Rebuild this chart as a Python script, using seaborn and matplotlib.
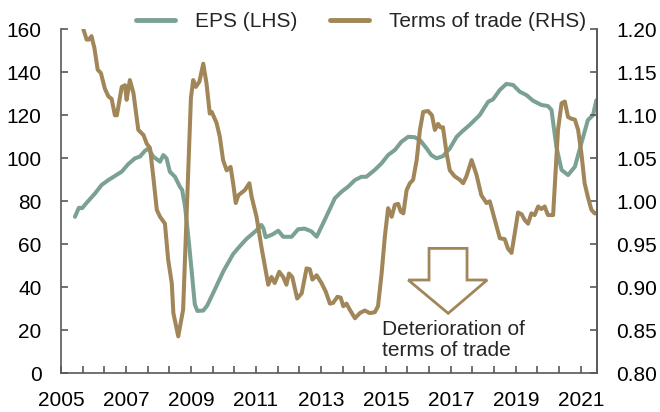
import numpy as np
import pandas as pd
import matplotlib
matplotlib.use("Agg")
import matplotlib.pyplot as plt
from matplotlib.patches import Polygon
from matplotlib.lines import Line2D
import seaborn as sns

# EPS (left axis)
eps_year = [2005.43, 2005.55, 2005.65, 2005.8, 2006.05, 2006.25, 2006.46, 2006.66, 2006.87,
            2007.07, 2007.28, 2007.43, 2007.58, 2007.69, 2007.84, 2008.05, 2008.15, 2008.25,
            2008.35, 2008.51, 2008.66, 2008.73, 2008.82, 2008.92, 2009.02, 2009.12, 2009.2,
            2009.38, 2009.5, 2009.69, 2010.0, 2010.3, 2010.5, 2010.71, 2011.02, 2011.17,
            2011.23, 2011.3, 2011.5, 2011.69, 2011.84, 2012.1, 2012.3, 2012.5, 2012.71,
            2012.87, 2013.07, 2013.28, 2013.43, 2013.64, 2013.84, 2014.05, 2014.25, 2014.4,
            2014.66, 2014.87, 2015.07, 2015.28, 2015.48, 2015.69, 2015.89, 2016.05, 2016.25,
            2016.4, 2016.56, 2016.76, 2016.97, 2017.18, 2017.35, 2017.58, 2017.89, 2018.15,
            2018.3, 2018.51, 2018.71, 2018.92, 2019.12, 2019.33, 2019.53, 2019.79, 2019.99,
            2020.1, 2020.25, 2020.41, 2020.61, 2020.82, 2021.02, 2021.22, 2021.38, 2021.48]
eps = [72.8, 77.0, 76.8, 79.5, 83.7, 87.6, 89.9, 91.8, 93.8,
       97.3, 100.0, 100.8, 103.4, 104.6, 100.8, 98.4, 101.5, 100.0,
       93.8, 91.4, 86.8, 85.3, 77.5, 63.5, 48.0, 32.0, 29.0,
       29.2, 31.5, 37.5, 47.5, 55.5, 59.0, 62.5, 66.5, 69.0,
       67.5, 63.3, 64.5, 66.3, 63.5, 63.5, 67.0, 67.3, 66.0,
       63.5, 69.8, 76.5, 81.4, 84.5, 86.8, 89.9, 91.4, 91.4,
       94.6, 97.7, 101.5, 103.9, 107.7, 110.0, 109.8, 108.5, 104.7,
       101.5, 100.0, 101.0, 104.6, 110.0, 112.5, 115.5, 120.1, 126.3,
       127.4, 131.8, 134.6, 134.1, 131.0, 129.4, 126.8, 124.8, 124.3,
       122.5, 105.4, 94.6, 92.2, 96.1, 107.0, 117.8, 120.1, 127.0]

# Terms of trade (right axis)
tot_year = [2005.62, 2005.69, 2005.79, 2005.86, 2005.94, 2006.03, 2006.13, 2006.23, 2006.35,
            2006.46, 2006.56, 2006.66, 2006.72, 2006.87, 2006.97, 2007.02, 2007.12, 2007.23,
            2007.38, 2007.54, 2007.64, 2007.74, 2007.84, 2007.95, 2008.05, 2008.2, 2008.3,
            2008.41, 2008.46, 2008.61, 2008.76, 2008.92, 2009.0, 2009.07, 2009.15, 2009.26,
            2009.38, 2009.48, 2009.58, 2009.64, 2009.79, 2009.89, 2009.99, 2010.1, 2010.22,
            2010.3, 2010.38, 2010.46, 2010.66, 2010.8, 2010.87, 2011.02, 2011.17, 2011.28,
            2011.38, 2011.48, 2011.58, 2011.72, 2011.84, 2011.94, 2012.02, 2012.12, 2012.27,
            2012.41, 2012.56, 2012.66, 2012.74, 2012.87, 2013.02, 2013.15, 2013.28, 2013.38,
            2013.51, 2013.61, 2013.69, 2013.79, 2013.89, 2014.05, 2014.2, 2014.35, 2014.51,
            2014.66, 2014.76, 2014.87, 2014.97, 2015.07, 2015.18, 2015.28, 2015.38, 2015.46,
            2015.54, 2015.64, 2015.74, 2015.84, 2015.95, 2016.05, 2016.15, 2016.3, 2016.42,
            2016.51, 2016.61, 2016.68, 2016.76, 2016.87, 2016.97, 2017.12, 2017.28, 2017.38,
            2017.48, 2017.64, 2017.79, 2017.94, 2018.1, 2018.2, 2018.3, 2018.41, 2018.51,
            2018.66, 2018.76, 2018.87, 2018.97, 2019.07, 2019.18, 2019.28, 2019.38, 2019.48,
            2019.58, 2019.69, 2019.79, 2019.89, 2019.99, 2020.15, 2020.2, 2020.3, 2020.41,
            2020.51, 2020.61, 2020.71, 2020.82, 2020.92, 2021.02, 2021.12, 2021.22, 2021.33,
            2021.43, 2021.48]
tot = [1.230, 1.200, 1.188, 1.188, 1.192, 1.178, 1.153, 1.149, 1.131,
       1.122, 1.119, 1.100, 1.100, 1.133, 1.135, 1.118, 1.141, 1.126,
       1.083, 1.077, 1.067, 1.062, 1.029, 0.990, 0.982, 0.974, 0.932,
       0.905, 0.870, 0.843, 0.874, 1.036, 1.120, 1.141, 1.133, 1.139,
       1.160, 1.137, 1.102, 1.104, 1.091, 1.075, 1.048, 1.036, 1.040,
       1.021, 0.998, 1.007, 1.013, 1.021, 1.005, 0.982, 0.947, 0.924,
       0.903, 0.912, 0.905, 0.918, 0.912, 0.903, 0.916, 0.912, 0.887,
       0.893, 0.922, 0.921, 0.909, 0.914, 0.905, 0.895, 0.881, 0.882,
       0.889, 0.888, 0.878, 0.881, 0.874, 0.864, 0.870, 0.873, 0.870,
       0.871, 0.878, 0.916, 0.959, 0.992, 0.982, 0.996, 0.997, 0.988,
       0.986, 1.013, 1.021, 1.025, 1.048, 1.083, 1.104, 1.105, 1.100,
       1.083, 1.090, 1.086, 1.086, 1.056, 1.036, 1.029, 1.025, 1.021,
       1.029, 1.048, 1.031, 1.007, 0.998, 1.000, 0.986, 0.971, 0.957,
       0.956, 0.945, 0.940, 0.963, 0.987, 0.985, 0.978, 0.974, 0.986,
       0.984, 0.994, 0.991, 0.994, 0.984, 0.984, 1.017, 1.083, 1.114,
       1.116, 1.098, 1.096, 1.095, 1.083, 1.056, 1.021, 1.005, 0.990,
       0.986, 0.986]

left_ticks = [0, 20, 40, 60, 80, 100, 120, 140, 160]
right_ticks = [0.80, 0.85, 0.90, 0.95, 1.00, 1.05, 1.10, 1.15, 1.20]
year_labels = [2005, 2007, 2009, 2011, 2013, 2015, 2017, 2019, 2021]

teal = "#7BA192"
brown = "#A08658"
spine_col = "#595959"

sns.set_style("ticks")
plt.rcParams['font.family'] = ['Liberation Sans', 'DejaVu Sans']
plt.rcParams['font.size'] = 15

fig = plt.figure(figsize=(6.6, 4.12), dpi=100)
ax = fig.add_axes([0.0924, 0.0939, 0.8121, 0.835])
ax2 = ax.twinx()

sns.lineplot(x=eps_year, y=eps, ax=ax, color=teal, linewidth=2.9)
sns.lineplot(x=tot_year, y=tot, ax=ax2, color=brown, linewidth=2.9)

ax.set_xlim(2005, 2021.5)
ax.set_ylim(0, 160)
ax2.set_ylim(0.80, 1.20)

ax.set_xticks(year_labels)
ax.set_xticklabels([str(y) for y in year_labels])
ax.set_xticks(np.arange(2005, 2021.55, 2 / 3), minor=True)
ax.set_yticks(left_ticks)
ax2.set_yticks(right_ticks)
ax2.set_yticklabels([f"{v:.2f}" for v in right_ticks])

for a in (ax, ax2):
    a.tick_params(which="both", direction="in", length=5, width=1.2, color=spine_col,
                  labelsize=15, labelcolor="black")
    for s in a.spines.values():
        s.set_color(spine_col)
        s.set_linewidth(1.2)
    a.spines["top"].set_visible(False)
    a.set_xlabel("")
    a.set_ylabel("")
ax.tick_params(axis="x", which="both", pad=13)
ax.tick_params(axis="y", pad=14)
ax2.tick_params(axis="y", pad=14)
ax2.spines["left"].set_visible(False)
ax2.spines["bottom"].set_visible(False)

# hollow arrow: deterioration of terms of trade
arrow = Polygon([(2016.33, 58.1), (2017.5, 58.1), (2017.5, 43.4), (2018.12, 43.4),
                 (2016.92, 27.9), (2015.69, 43.4), (2016.33, 43.4)],
                closed=True, facecolor="none", edgecolor=brown, linewidth=2)
ax.add_patch(arrow)
ax.text(2014.87, 15.5, "Deterioration of\nterms of trade", ha="left", va="center",
        fontsize=15, linespacing=1.1)

handles = [Line2D([], [], color=teal, linewidth=3.5),
           Line2D([], [], color=brown, linewidth=3.5)]
fig.legend(handles, ["EPS (LHS)", "Terms of trade (RHS)"], loc="center",
           bbox_to_anchor=(361 / 660, 0.947), ncol=2, frameon=False, fontsize=15,
           handlelength=1.85, handletextpad=0.95, columnspacing=1.6, borderpad=0)

fig.savefig("out.png", dpi=100)
